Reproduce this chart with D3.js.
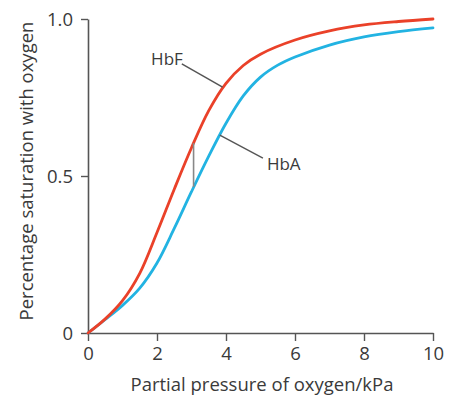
<!DOCTYPE html>
<html>
<head>
<meta charset="utf-8">
<script src="https://cdn.jsdelivr.net/npm/d3@7"></script>
<style>
  html, body { margin: 0; padding: 0; background: #fff; }
  svg { display: block; }
  text { font-family: "Open Sans", sans-serif; fill: #3a3a3a; }
</style>
</head>
<body>
<div id="chart"></div>
<script>
// ---- data ----
const pressureHbF = [0, 0.5, 1.0, 1.5, 2.0, 2.5, 3.0, 3.5, 4.0, 4.5, 5.0, 6.0, 7.0, 8.0, 9.0, 10];
const saturationHbF = [0, 0.045, 0.103, 0.19, 0.32, 0.458, 0.59, 0.708, 0.795, 0.852, 0.888, 0.933, 0.962, 0.981, 0.992, 1.0];
const pressureHbA = [0, 0.5, 1.0, 1.5, 2.0, 2.5, 3.0, 3.5, 4.0, 4.5, 5.0, 5.5, 6.0, 7.0, 8.0, 9.0, 10];
const saturationHbA = [0, 0.043, 0.088, 0.143, 0.223, 0.333, 0.45, 0.563, 0.668, 0.755, 0.815, 0.853, 0.879, 0.917, 0.943, 0.96, 0.972];
const xTicks = [0, 2, 4, 6, 8, 10];
const yTicks = [0, 0.5, 1.0];
const yTickLabels = ["0", "0.5", "1.0"];
const seriesNames = ["HbF", "HbA"];
// label leader lines: [curve point x, y] -> [label end x, y]
const leaderHbF = [[3.9, 0.783], [2.72, 0.857]];
const leaderHbA = [[3.82, 0.63], [5.07, 0.557]];
// vertical gap marker between curves
const gapX = 3.06;
const gapY = [0.605, 0.465];

const W = 456, H = 400;
const svg = d3.select("#chart").append("svg").attr("width", W).attr("height", H);

const x = d3.scaleLinear().domain([0, 10]).range([88, 433]);
const y = d3.scaleLinear().domain([0, 1]).range([333, 19]);

const axisColor = "#555";

// axes
const gx = svg.append("g").attr("transform", `translate(0,${y(0)})`)
  .call(d3.axisBottom(x).tickValues(xTicks).tickSize(8).tickSizeOuter(0).tickPadding(6).tickFormat(d3.format("d")));
const gy = svg.append("g").attr("transform", `translate(${x(0)},0)`)
  .call(d3.axisLeft(y).tickValues(yTicks).tickSize(7).tickSizeOuter(0).tickPadding(8)
    .tickFormat((d, i) => yTickLabels[i]));
[gx, gy].forEach(g => {
  g.select(".domain").attr("stroke", axisColor).attr("stroke-width", 1.6);
  g.selectAll(".tick line").attr("stroke", axisColor).attr("stroke-width", 1.4);
  g.selectAll(".tick text").attr("font-size", 18.5).attr("fill", "#3a3a3a")
    .style("font-family", "'Open Sans', sans-serif");
});
gy.selectAll(".tick text").attr("dy", "0.36em");

// axis titles
svg.append("text").attr("x", 262).attr("y", 391).attr("text-anchor", "middle")
  .attr("font-size", 18.5).text("Partial pressure of oxygen/kPa");
svg.append("text").attr("transform", `translate(33,${(y(0) + y(1)) / 2 - 5}) rotate(-90)`)
  .attr("text-anchor", "middle").attr("font-size", 18.5).text("Percentage saturation with oxygen");

// curves
const line = d3.line().x(d => x(d[0])).y(d => y(d[1])).curve(d3.curveCatmullRom.alpha(0.5));
const hbA = pressureHbA.map((p, i) => [p, saturationHbA[i]]);
const hbF = pressureHbF.map((p, i) => [p, saturationHbF[i]]);
svg.append("path").datum(hbA).attr("d", line).attr("fill", "none")
  .attr("stroke", "#22b3e2").attr("stroke-width", 2.8).attr("stroke-linecap", "round");
svg.append("path").datum(hbF).attr("d", line).attr("fill", "none")
  .attr("stroke", "#ea4129").attr("stroke-width", 2.8).attr("stroke-linecap", "round");

// gap marker
svg.append("line").attr("x1", x(gapX)).attr("x2", x(gapX)).attr("y1", y(gapY[0])).attr("y2", y(gapY[1]))
  .attr("stroke", "#888").attr("stroke-width", 1.6);

// leaders and labels
const leaderColor = "#555";
[leaderHbF, leaderHbA].forEach(l => {
  svg.append("line").attr("x1", x(l[0][0])).attr("y1", y(l[0][1]))
    .attr("x2", x(l[1][0])).attr("y2", y(l[1][1]))
    .attr("stroke", leaderColor).attr("stroke-width", 1.5);
});
svg.append("text").attr("x", x(leaderHbF[1][0]) + 1).attr("y", y(leaderHbF[1][1]) + 1)
  .attr("text-anchor", "end").attr("font-size", 17).text(seriesNames[0]);
svg.append("text").attr("x", x(leaderHbA[1][0]) + 4).attr("y", y(leaderHbA[1][1]) + 12)
  .attr("text-anchor", "start").attr("font-size", 17).text(seriesNames[1]);
</script>
</body>
</html>
